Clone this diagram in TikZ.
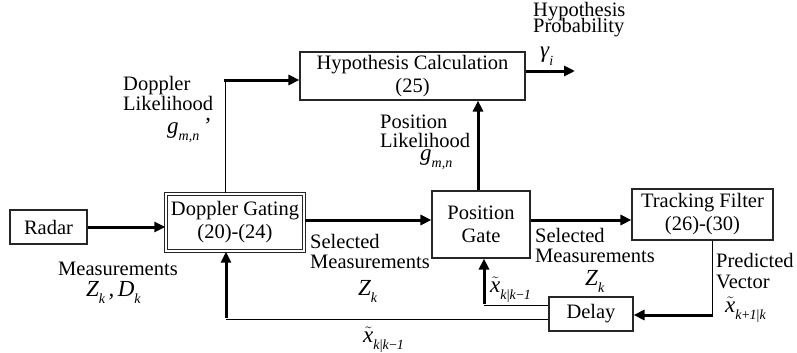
\documentclass[tikz,border=0pt]{standalone}
\usepackage{fontspec}
\setmainfont{Liberation Serif}
\usetikzlibrary{arrows.meta}
\newcommand{\bx}{\fontsize{20.5}{23}\selectfont}
\newcommand{\mi}[1]{{\fontsize{23}{23}\selectfont\itshape #1}}
\newcommand{\sbs}[1]{\raisebox{-0.35em}{\fontsize{14}{14}\selectfont\itshape #1}}
\newcommand{\xt}{$\tilde{\hbox{\mi{x}}}$}
\begin{document}
\begin{tikzpicture}[x=1pt,y=-1pt,
  box/.style={draw=black!85,line width=1.1pt,inner sep=0pt,align=center,font=\bx},
  wire/.style={line width=1pt},
  flow/.style={line width=3pt,-{Triangle[length=11pt,width=10pt]}},
  lbl/.style={inner sep=0pt,font=\bx}]
\useasboundingbox (0,0) rectangle (797,353);

% boxes
\node[box,minimum width=77pt,minimum height=34pt] (radar) at (48.5,227) {Radar};
\node[box,double,line width=0.9pt,double distance=1.8pt,minimum width=138.4pt,minimum height=57.4pt] (dop) at (235,222.5) {Doppler Gating\\(20)-(24)};
\node[box,minimum width=225pt,minimum height=48pt] (hyp) at (412.5,76) {Hypothesis Calculation\\(25)};
\node[box,minimum width=98pt,minimum height=67pt] (pos) at (481,224.5) {Position\\Gate};
\node[box,minimum width=141pt,minimum height=51pt] (trk) at (702.5,214.5) {Tracking Filter\\(26)-(30)};
\node[box,minimum width=84pt,minimum height=34pt] (delay) at (591,314) {Delay};

% connectors
\draw[flow] (radar.east) -- (radar.east -| dop.west);
\coordinate (dl) at (225,80);
\draw[wire] (dop.north -| dl) -- (dl);
\draw[flow] ([xshift=-1pt]dl) -- (dl -| hyp.west);
\coordinate (hout) at (575,71);
\draw[flow] (hyp.east |- hout) -- (hout);
\coordinate (pl) at (478,0);
\draw[flow] (pos.north -| pl) -- (hyp.south -| pl);
\coordinate (m1) at (0,220);
\draw[flow] (dop.east |- m1) -- (pos.west |- m1);
\draw[flow] (pos.east |- m1) -- (trk.west |- m1);
\coordinate (pv) at (712,315);
\draw[wire] (trk.south -| pv) -- (pv);
\draw[flow] ([xshift=1pt]pv) -- (delay.east |- pv);
\coordinate (f1) at (484,305);
\draw[wire] (delay.west |- f1) -- (f1);
\draw[flow] ([yshift=1pt]f1) -- (pos.south -| f1);
\coordinate (f2) at (226,319);
\draw[wire] (delay.west |- f2) -- (f2);
\draw[flow] ([yshift=1pt]f2) -- (dop.south -| f2);

% labels
\node[lbl,anchor=base west] (dl1) at (123,90) {Doppler};
\node[lbl,anchor=base west] (dl2) at (123,110) {Likelihood};
\node[lbl,anchor=base west] (dl3) at (167,133) {\mi{g}\sbs{m,n}\,\mi{'}};

\node[lbl,anchor=base west] (hp1) at (533,17) {Hypothesis};
\node[lbl,anchor=base west] (hp2) at (533,33) {Probability};
\node[lbl,anchor=base west] (hp3) at (540,58) {\mi{γ}\sbs{i}};

\node[lbl,anchor=base west] (pl1) at (380,128) {Position};
\node[lbl,anchor=base west] (pl2) at (380,147) {Likelihood};
\node[lbl,anchor=base west] (pl3) at (420,160) {\mi{g}\sbs{m,n}};

\node[lbl,anchor=base west] (ms1) at (58,275) {Measurements};
\node[lbl,anchor=base west] (ms2) at (86,296) {\mi{Z}\sbs{k}\,\mi{,}\,\mi{D}\sbs{k}};

\node[lbl,anchor=base west] (sa1) at (310,248) {Selected};
\node[lbl,anchor=base west] (sa2) at (310,268) {Measurements};
\node[lbl,anchor=base west] (sa3) at (358,295) {\mi{Z}\sbs{k}};

\node[lbl,anchor=base west] (sb1) at (535,242) {Selected};
\node[lbl,anchor=base west] (sb2) at (535,262) {Measurements};
\node[lbl,anchor=base west] (sb3) at (585,285) {\mi{Z}\sbs{k}};

\node[lbl,anchor=base west] (pv1) at (716,267) {Predicted};
\node[lbl,anchor=base west] (pv2) at (716,288) {Vector};
\node[lbl,anchor=base west] (pv3) at (725,312) {\xt\sbs{k\textup{+}1\textup{|}k}};

\node[lbl,anchor=base west] (xa) at (490,292) {\xt\sbs{k\textup{|}k\textup{−}1}};
\node[lbl,anchor=base west] (xb) at (363,342) {\xt\sbs{k\textup{|}k\textup{−}1}};
\end{tikzpicture}
\end{document}
